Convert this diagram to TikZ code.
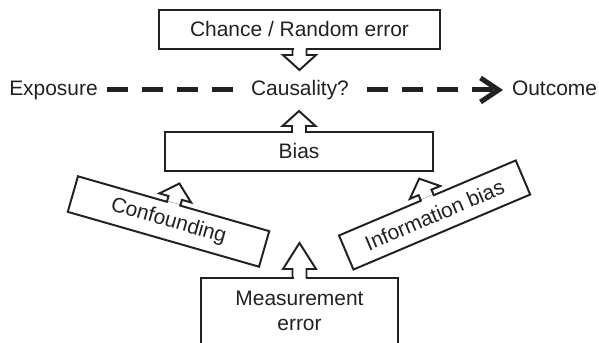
\documentclass[tikz,border=0pt]{standalone}
\usepackage{fontspec}
\setmainfont{Liberation Sans}
\usepackage{tikz}
\usetikzlibrary{arrows.meta, positioning}
\definecolor{ink}{gray}{0.13}

\begin{document}
\begin{tikzpicture}[
  font=\fontsize{14.9}{18}\selectfont,
  color=ink,
  box/.style={draw, line width=1.4pt, inner sep=0pt, outer sep=0pt, minimum height=0.975cm},
  tiltbox/.style={box, minimum height=0.925cm},
  lbl/.style={inner xsep=0.24cm, inner ysep=0pt, outer sep=0pt, text height=0.716em, text depth=0pt},
  dline/.style={line width=0.125cm, dash pattern=on 0.525cm off 0.35cm},
  pics/hollow/.style n args={2}{code={
    \fill[white] (-0.15,-0.04) rectangle (0.15,0.02);
    \draw[line width=1.4pt] (-0.175,0) -- (-0.175,#1) -- (-0.4125,#1) -- (0,#1+#2) -- (0.4125,#1) -- (0.175,#1) -- (0.175,0);
  }}
]
\clip (0,0) rectangle (14.975,8.575);

% --- Top: chance ---
\node[box, minimum width=7.025cm] (chance) at (7.4875,7.8375) {Chance / Random error};

% --- Exposure - outcome line ---
\node[lbl] (expo) at (1.3375,6.325) {Exposure};
\node[lbl, inner xsep=0.45cm] (causal) at (7.5,6.325) {Causality?};
\node[lbl, inner xsep=0.225cm] (outcome) at (13.8625,6.325) {Outcome};

\draw[dline] (expo) -- (causal);
\draw[dline, -{Straight Barb[length=0.45cm, width=0.6cm]}] (causal) -- (outcome);

% --- Bias and its sources ---
\node[box, minimum width=6.7cm] (bias) at (7.475,4.7875) {Bias};
\node[tiltbox, minimum width=4.975cm, rotate=-16] (conf) at (4.2125,3.0375) {Confounding};
\node[tiltbox, minimum width=4.8cm, rotate=23] (info) at (10.865,3.2) {Information bias};

% --- Bottom: measurement error ---
\node[box, minimum width=4.925cm, minimum height=2.5cm, anchor=north] (meas) at (7.4875,1.625) {};
\node[align=center, inner sep=0pt, below=0.3175cm of meas.north] (meastxt) {Measurement\\error};

% --- Block arrows ---
\pic[rotate=180] at (chance.south) {hollow={0.15}{0.375}};
\pic at (bias.north) {hollow={0.15}{0.375}};
\pic[rotate=-16] at (conf.north) {hollow={0.15}{0.375}};
\pic[rotate=23] at (info.north) {hollow={0.15}{0.375}};
\pic at (meas.north) {hollow={0.225}{0.65}};

\end{tikzpicture}
\end{document}
